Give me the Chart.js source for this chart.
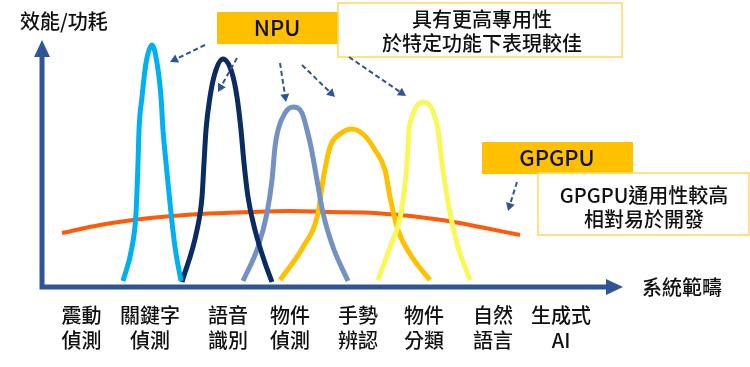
<!DOCTYPE html>
<html>
<head>
<meta charset="utf-8">
<script src="https://cdn.jsdelivr.net/npm/chart.js@4.4.1/dist/chart.umd.min.js"></script>
<style>
  html, body { margin: 0; padding: 0; background: #fff; }
  canvas { display: block; }
</style>
</head>
<body>
<canvas id="chart" width="750" height="367"></canvas>
<script>
// =============================================================================
// DATA  (x = 系統範疇, y = 效能/功耗, arbitrary units)
// =============================================================================

const categories = [
  ["震動", "偵測"], ["關鍵字", "偵測"], ["語音", "識別"], ["物件", "偵測"],
  ["手勢", "辨認"], ["物件", "分類"], ["自然", "語言"], ["生成式", "AI"],
];
const categoryAt = [3.95, 10.8, 18.6, 24.8, 31.6, 38.2, 45.1, 51.9];

// NPU curves, one per task
const keywordCurve = [
  [8.1, 0.6], [9.0, 4.0], [9.4, 7.4], [9.6, 12.4], [9.7, 15.7], [10.0, 19.0], [10.4, 22.4],
  [11.0, 24.2], [11.5, 22.4], [11.9, 19.0], [12.1, 15.7], [12.4, 12.4], [12.9, 7.4], [13.3, 4.0], [13.9, 0.6],
];
const speechCurve = [
  [14.0, 0.5], [15.5, 5.7], [16.0, 9.0], [16.2, 12.4], [16.4, 15.7], [16.8, 19.0], [17.3, 21.4],
  [18.1, 22.8], [19.0, 21.4], [19.5, 19.0], [19.9, 15.7], [20.2, 12.4], [20.6, 9.0], [21.3, 5.7], [22.3, 2.4], [23.0, 0.5],
];
const detectCurve = [
  [20.1, 0.6], [21.6, 4.0], [22.5, 7.4], [23.0, 10.7], [23.3, 14.0], [23.6, 15.7], [24.3, 17.4],
  [25.1, 18.0], [26.0, 17.4], [26.5, 15.7], [26.9, 14.0], [27.5, 10.7], [28.1, 7.4], [29.1, 4.0], [30.6, 0.6],
];
const gestureCurve = [
  [23.8, 0.7], [26.1, 4.0], [27.6, 7.4], [28.1, 10.7], [28.8, 14.0], [29.8, 15.3], [31.0, 15.8],
  [32.2, 15.2], [33.3, 13.7], [34.3, 11.7], [34.8, 9.0], [35.6, 5.7], [37.0, 3.0], [38.8, 0.7],
];
const classifyCurve = [
  [33.6, 0.7], [34.8, 4.0], [35.9, 7.4], [36.5, 12.4], [36.7, 15.7], [37.0, 17.0], [37.4, 18.0],
  [38.1, 18.5], [38.9, 18.0], [39.3, 17.0], [39.6, 15.7], [40.0, 12.4], [40.8, 7.4], [41.6, 4.0], [42.8, 0.7],
];
// GPGPU: broad and flat
const gpgpuCurve = [
  [2.0, 5.4], [5.8, 6.2], [10.8, 6.9], [15.8, 7.3], [20.8, 7.5], [24.8, 7.6],
  [28.8, 7.5], [33.3, 7.4], [40.0, 6.7], [44.3, 5.9], [47.8, 5.2],
];

// dashed pointers from the labels to the curves: [fromX, fromY, toX, toY]
const npuPointers = [
  [16.3, 24.2, 12.8, 22.5],
  [19.5, 22.9, 17.6, 19.5],
  [23.8, 22.4, 24.4, 18.5],
  [26.0, 22.2, 29.3, 19.0],
  [30.7, 23.0, 36.4, 19.1],
];
const gpgpuPointers = [[47.5, 10.5, 46.6, 7.6]];

// =============================================================================

const FONT = '"Noto Sans CJK TC", "Noto Sans", sans-serif';
const AXIS_BLUE = "#2F5597";
const INK = "#111";
const GOLD = "#FFC000";
const NOTE_BORDER = "#FFD75E";

const toPoints = (pairs) => pairs.map(([x, y]) => ({ x, y }));

const curve = (pairs, color, width) => ({
  data: toPoints(pairs),
  borderColor: color,
  borderWidth: width,
  pointRadius: 0,
  fill: false,
  cubicInterpolationMode: "monotone",
});

const arrowHead = (ctx, x1, y1, x2, y2, len, half) => {
  const a = Math.atan2(y2 - y1, x2 - x1);
  const c = Math.cos(a), s = Math.sin(a);
  ctx.beginPath();
  ctx.moveTo(x2, y2);
  ctx.lineTo(x2 - len * c + half * s, y2 - len * s - half * c);
  ctx.lineTo(x2 - len * c - half * s, y2 - len * s + half * c);
  ctx.closePath();
  ctx.fill();
};

const centerText = (ctx, lines, cx, cy, lineH, size) => {
  ctx.font = `500 ${size}px ${FONT}`;
  ctx.fillStyle = INK;
  ctx.textAlign = "center";
  ctx.textBaseline = "middle";
  lines.forEach((t, i) => ctx.fillText(t, cx, cy + i * lineH));
};

// axes with arrowheads + axis titles + category labels
const axesPlugin = {
  id: "arrowAxes",
  beforeDatasetsDraw(chart) {
    const { ctx } = chart;
    const xs = chart.scales.x, ys = chart.scales.y;
    const ox = xs.getPixelForValue(0), oy = ys.getPixelForValue(0);
    const topTip = ys.getPixelForValue(24.7);
    const rightTip = xs.getPixelForValue(58.1);

    ctx.save();
    ctx.strokeStyle = AXIS_BLUE;
    ctx.fillStyle = AXIS_BLUE;
    ctx.lineWidth = 5;
    ctx.beginPath();
    ctx.moveTo(ox, oy + 2.5);
    ctx.lineTo(ox, topTip + 12);
    ctx.moveTo(ox - 2.5, oy);
    ctx.lineTo(rightTip - 12, oy);
    ctx.stroke();
    arrowHead(ctx, ox, oy, ox, topTip, 17, 8);
    arrowHead(ctx, ox, oy, rightTip, oy, 17, 8);

    ctx.font = `500 20px ${FONT}`;
    ctx.fillStyle = INK;
    ctx.textBaseline = "middle";
    ctx.textAlign = "left";
    ctx.fillText("效能/功耗", 20, 21);
    ctx.fillText("系統範疇", 642, oy);

    categories.forEach((lines, i) => {
      centerText(ctx, lines, xs.getPixelForValue(categoryAt[i]), oy + 28, 25, 20);
    });
    ctx.restore();
  },
  afterDatasetsDraw(chart) {
    const { ctx } = chart;
    const xs = chart.scales.x, ys = chart.scales.y;

    // label boxes
    ctx.save();
    ctx.fillStyle = GOLD;
    ctx.fillRect(217, 12, 125, 32);
    ctx.fillRect(482, 142, 151, 32);
    centerText(ctx, ["NPU"], 277, 28, 0, 22);
    centerText(ctx, ["GPGPU"], 557, 158, 0, 22);

    ctx.fillStyle = "#fff";
    ctx.strokeStyle = NOTE_BORDER;
    ctx.lineWidth = 1.5;
    ctx.fillRect(338, 3, 284, 54);
    ctx.strokeRect(338, 3, 284, 54);
    ctx.fillRect(538, 173, 211, 62);
    ctx.strokeRect(538, 173, 211, 62);
    centerText(ctx, ["具有更高專用性", "於特定功能下表現較佳"], 482, 19, 24, 20);
    centerText(ctx, ["GPGPU通用性較高", "相對易於開發"], 644, 195, 24, 20);

    // dashed pointers
    ctx.strokeStyle = AXIS_BLUE;
    ctx.fillStyle = AXIS_BLUE;
    ctx.lineWidth = 2;
    [...npuPointers, ...gpgpuPointers].forEach(([fx, fy, tx, ty]) => {
      const x1 = xs.getPixelForValue(fx), y1 = ys.getPixelForValue(fy);
      const x2 = xs.getPixelForValue(tx), y2 = ys.getPixelForValue(ty);
      const a = Math.atan2(y2 - y1, x2 - x1);
      ctx.setLineDash([5, 3]);
      ctx.beginPath();
      ctx.moveTo(x1, y1);
      ctx.lineTo(x2 - 6 * Math.cos(a), y2 - 6 * Math.sin(a));
      ctx.stroke();
      ctx.setLineDash([]);
      arrowHead(ctx, x1, y1, x2, y2, 8, 4.5);
    });
    ctx.restore();
  },
};

new Chart(document.getElementById("chart"), {
  type: "line",
  data: {
    datasets: [
      curve(keywordCurve, "#00B0F0", 5),
      curve(speechCurve, "#0B2C63", 5),
      curve(detectCurve, "#7391C2", 5),
      curve(classifyCurve, "#F8F85A", 5),
      curve(gestureCurve, "#FFC000", 5),
      curve(gpgpuCurve, "#FF5A0A", 4),
    ],
  },
  options: {
    responsive: false,
    animation: false,
    devicePixelRatio: 1,
    layout: { padding: { left: 42, right: 128, top: 37, bottom: 80 } },
    plugins: { legend: { display: false }, tooltip: { enabled: false } },
    scales: {
      x: { type: "linear", min: 0, max: 58, display: false },
      y: { type: "linear", min: 0, max: 25, display: false },
    },
  },
  plugins: [axesPlugin],
});
</script>
</body>
</html>
